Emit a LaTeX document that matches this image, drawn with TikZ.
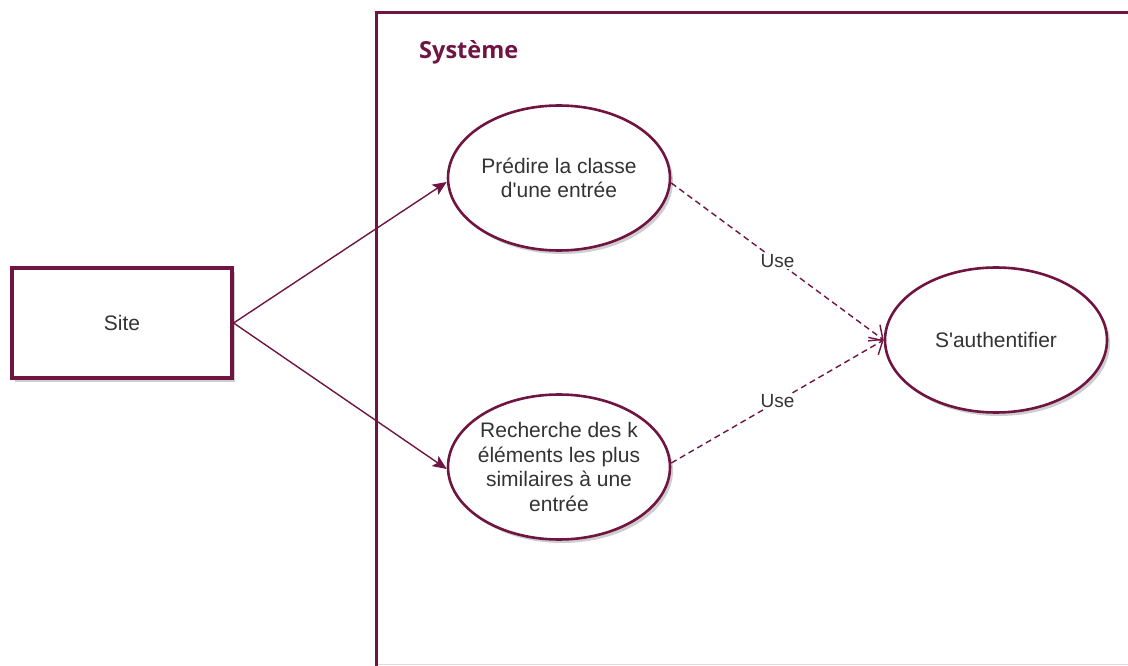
\documentclass[tikz,border=0pt]{standalone}
\usepackage{fontspec}
\setmainfont{Liberation Sans}
\newfontfamily\titlefont{Open Sans}
\usetikzlibrary{arrows.meta,shadows,shapes.geometric}
\definecolor{wine}{RGB}{112,20,66}
\definecolor{txt}{RGB}{51,51,51}
\tikzset{
  soft shadow/.style={drop shadow={shadow xshift=3pt,shadow yshift=-3.5pt,opacity=0.35,fill=black!55}},
  actorbox/.style={draw=wine,line width=3.2pt,fill=white,minimum width=220pt,minimum height=110pt,
    text=txt,font=\fontsize{21}{24}\selectfont,soft shadow},
  usecase/.style={ellipse,draw=wine,line width=2.6pt,fill=white,minimum width=222pt,minimum height=145pt,
    inner xsep=-30pt,inner ysep=-30pt,text=txt,align=center,font=\fontsize{21}{24.5}\selectfont,soft shadow},
  assoc/.style={draw=wine,line width=1.4pt,-{Stealth[length=14pt,width=12pt,inset=3pt]}},
  uses/.style={draw=wine,line width=1.4pt,dash pattern=on 6pt off 4pt,
    -{Straight Barb[length=11pt,width=20pt,line width=1.4pt]}},
  uselabel/.style={fill=white,inner sep=1pt,text=txt,font=\fontsize{19}{22}\selectfont},
  frameline/.style={draw=wine,line width=3pt}
}
\begin{document}
\begin{tikzpicture}[x=1pt,y=-1pt]
  \useasboundingbox (0,0) rectangle (1128,666);
  % system boundary
  \coordinate (fbl) at (376,666);
  \coordinate (ftl) at (376,13);
  \coordinate (ftr) at (1128,13);
  \coordinate (fbr) at (1128,664);
  \draw[draw=wine!18,line width=1pt] (377,664) -- (fbr);
  \draw[frameline] (fbl) -- (ftl) -- (ftr);
  \node[anchor=west,text=wine,font=\titlefont\bfseries\fontsize{23.5}{26}\selectfont,inner sep=0pt] (title) at (419,52) {Système};

  % actor and use cases
  \node[actorbox] (site) at (122,323) {Site};
  \node[usecase] (predict) at (559,178) {Prédire la classe\\d\textquotesingle une entrée};
  \node[usecase] (search) at (559,467) {Recherche des k\\éléments les plus\\similaires à une\\entrée};
  \node[usecase] (auth) at (996,340) {S\textquotesingle authentifier};

  % connectors
  \draw[assoc] (site.east) -- ([yshift=-4pt]predict.west);
  \draw[assoc] (site.east) -- ([yshift=-2pt]search.west);
  \draw[uses] ([yshift=-5pt]predict.east) -- node[uselabel,pos=0.5] {Use} (auth.west);
  \draw[uses] ([yshift=4pt]search.east) -- node[uselabel,pos=0.5] {Use} (auth.west);
\end{tikzpicture}
\end{document}
